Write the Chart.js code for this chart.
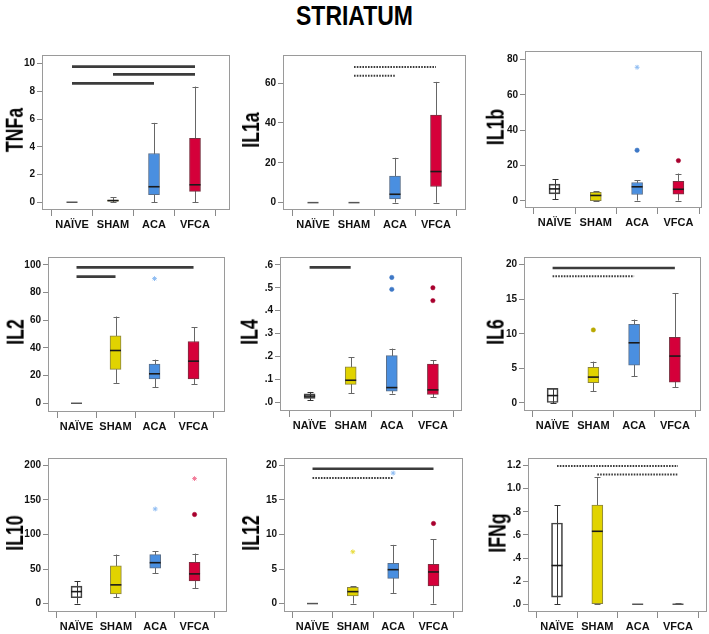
<!DOCTYPE html>
<html><head><meta charset="utf-8">
<script src="https://cdn.jsdelivr.net/npm/chart.js@4.4.1/dist/chart.umd.min.js"></script>
<style>
html,body{margin:0;padding:0;background:#fff;width:709px;height:634px;overflow:hidden;position:relative}
#title{position:absolute;left:0;top:0;width:709px;text-align:center;font-weight:bold;font-size:28px;font-family:"Liberation Sans",Arial,sans-serif;line-height:32px;color:#000;transform:scaleX(0.82);transform-origin:center}
.ytitle{position:absolute;white-space:nowrap;font-weight:bold;font-size:23px;font-family:"Liberation Sans",Arial,sans-serif;line-height:26px;color:#000;transform-origin:center}
canvas{position:absolute}
</style></head><body>
<div id="title">STRIATUM</div>
<script>
const GROUPS = ['NAÏVE','SHAM','ACA','VFCA'];

// box statistics per group: [min, q1, median, q3, max]
const TNFA_BOX = [[0,0,0,0,0],[0,0.07,0.12,0.15,0.35],[0,0.54,1.12,3.52,5.73],[0,0.79,1.26,4.62,8.35]];
const IL1A_BOX = [[0,0,0,0,0],[0,0,0,0,0],[0,1.9,4.2,13.3,22.5],[0,8.1,15.6,43.9,60.6]];
const IL1B_BOX = [[0.9,4.0,6.8,9.5,12.2],[0,0.2,3.1,4.9,5.6],[0.2,3.65,8.0,10.4,11.7],[0.2,3.8,6.6,11.1,15.5]];
const IL2_BOX  = [[0,0,0,0,0],[14.7,24.5,38.1,48.6,62.6],[11.7,17.5,21.3,28.3,31.5],[13.6,17.5,30.4,44.6,54.9]];
const IL4_BOX  = [[0.01,0.018,0.028,0.038,0.046],[0.041,0.079,0.097,0.155,0.198],[0.039,0.049,0.065,0.204,0.235],[0.024,0.035,0.055,0.167,0.184]];
const IL6_BOX  = [[0,0,1.07,2.1,2.1],[1.68,2.94,3.74,5.14,5.98],[3.88,5.47,8.7,11.36,12.06],[2.24,2.99,6.78,9.49,15.9]];
const IL10_BOX = [[0,8.4,17.3,25.2,32.7],[9.3,14,27.1,54.7,71],[44,51.1,59.2,70.8,76],[22,32.7,43,59.8,72.4]];
const IL12_BOX = [[0,0,0,0,0],[0,1.12,1.73,2.34,2.48],[1.54,3.64,4.91,5.84,8.5],[0,2.57,4.58,5.7,9.35]];
const IFNG_BOX = [[0,0.061,0.335,0.703,0.857],[0,0,0.631,0.857,1.1],[0,0,0,0,0],[0,0,0,0,0.008]];

// outliers [group, value] (circles) and extremes [group, value] (stars)
const IL1B_OUT = [[2,28.7],[3,22.8]];  const IL1B_EXT = [[2,75.6]];
const IL2_EXT  = [[2,90]];
const IL4_OUT  = [[2,0.545],[2,0.493],[3,0.5],[3,0.444]];
const IL6_OUT  = [[1,10.56]];
const IL10_OUT = [[3,129]];            const IL10_EXT = [[2,137],[3,181]];
const IL12_OUT = [[3,11.6]];           const IL12_EXT = [[1,7.5],[2,18.9]];

// significance bars [fromGroup, toGroup, value]
const TNFA_SOLID = [[0,3,9.79],[1,3,9.23],[0,2,8.58]];
const IL1A_DOT   = [[1,3,68.1],[1,2,63.7]];
const IL2_SOLID  = [[0,3,98.1],[0,1,91.4]];
const IL4_SOLID  = [[0,1,0.589]];
const IL6_SOLID  = [[0,3,19.5]];       const IL6_DOT  = [[0,2,18.3]];
const IL12_SOLID = [[0,3,19.53]];      const IL12_DOT = [[0,2,18.2]];
const IFNG_DOT   = [[0,3,1.195],[1,3,1.122]];

// y tick values and labels
const TNFA_TICKS = [0,2,4,6,8,10];          const TNFA_LABELS = ['0','2','4','6','8','10'];
const IL1A_TICKS = [0,20,40,60];            const IL1A_LABELS = ['0','20','40','60'];
const IL1B_TICKS = [0,20,40,60,80];         const IL1B_LABELS = ['0','20','40','60','80'];
const IL2_TICKS  = [0,20,40,60,80,100];     const IL2_LABELS  = ['0','20','40','60','80','100'];
const IL4_TICKS  = [0,0.1,0.2,0.3,0.4,0.5,0.6]; const IL4_LABELS = ['.0','.1','.2','.3','.4','.5','.6'];
const IL6_TICKS  = [0,5,10,15,20];          const IL6_LABELS  = ['0','5','10','15','20'];
const IL10_TICKS = [0,50,100,150,200];      const IL10_LABELS = ['0','50','100','150','200'];
const IL12_TICKS = [0,5,10,15,20];          const IL12_LABELS = ['0','5','10','15','20'];
const IFNG_TICKS = [0,0.2,0.4,0.6,0.8,1.0,1.2]; const IFNG_LABELS = ['.0','.2','.4','.6','.8','1.0','1.2'];

// styling
const FILL = ['rgba(255,255,255,0)','#E1D300','#4A8FE0','#D5003A'];
const EDGE = ['#444','#8a8440','#5a6f8a','#7a3040'];
const WHISK = ['#333','#666','#666','#666'];
const OUTC = ['#333','#B8A800','#3E78C6','#A8002E'];
const EXTC = ['#888','#E8DC40','#8EBCF2','#F27A98'];
const SANS = '"Liberation Sans",Arial,sans-serif';

// layout: plot left, top, right, bottom, x of first group, x of last group; title gap
const PANELS = [
  {name:'TNFa', box:TNFA_BOX, out:[], ext:[], solid:TNFA_SOLID, dot:[], ticks:TNFA_TICKS, labels:TNFA_LABELS, yr:[-0.56,10.63], f:[42,50,230,210,72,195], g:27},
  {name:'IL1a', box:IL1A_BOX, out:[], ext:[], solid:[], dot:IL1A_DOT, ticks:IL1A_TICKS, labels:IL1A_LABELS, yr:[-3.7,74.1], f:[283,50,466,210,313,436], g:32},
  {name:'IL1b', box:IL1B_BOX, out:IL1B_OUT, ext:IL1B_EXT, solid:[], dot:[], ticks:IL1B_TICKS, labels:IL1B_LABELS, yr:[-4.0,84.8], f:[525,46,705,208,555,681], g:30},
  {name:'IL2', box:IL2_BOX, out:[], ext:IL2_EXT, solid:IL2_SOLID, dot:[], ticks:IL2_TICKS, labels:IL2_LABELS, yr:[-6.3,105.6], f:[48,252,228,412,77,196], g:33},
  {name:'IL4', box:IL4_BOX, out:IL4_OUT, ext:[], solid:IL4_SOLID, dot:[], ticks:IL4_TICKS, labels:IL4_LABELS, yr:[-0.037,0.634], f:[280,252,464,411,310,435], g:31},
  {name:'IL6', box:IL6_BOX, out:IL6_OUT, ext:[], solid:IL6_SOLID, dot:IL6_DOT, ticks:IL6_TICKS, labels:IL6_LABELS, yr:[-1.16,21.1], f:[524,252,703,411,553,677], g:29},
  {name:'IL10', box:IL10_BOX, out:IL10_OUT, ext:IL10_EXT, solid:[], dot:[], ticks:IL10_TICKS, labels:IL10_LABELS, yr:[-12.2,210.8], f:[48,453,230,612,77,197], g:33},
  {name:'IL12', box:IL12_BOX, out:IL12_OUT, ext:IL12_EXT, solid:IL12_SOLID, dot:IL12_DOT, ticks:IL12_TICKS, labels:IL12_LABELS, yr:[-1.22,21.08], f:[284,453,466,612,313,436], g:33},
  {name:'IFNg', box:IFNG_BOX, out:[], ext:[], solid:[], dot:IFNG_DOT, ticks:IFNG_TICKS, labels:IFNG_LABELS, yr:[-0.067,1.265], f:[528,453,707,612,557,678], g:31}
];

const boxPlugin = {
  id:'boxw',
  beforeDatasetsDraw(chart){
    const p = chart.options.plugins.boxw.panel;
    const xs = chart.scales.x, ys = chart.scales.y, ctx = chart.ctx;
    ctx.save();
    p.box.forEach((b,i)=>{
      const x = Math.round(xs.getPixelForValue(i))+0.5;
      const y0 = ys.getPixelForValue(b[0]), y4 = ys.getPixelForValue(b[4]);
      ctx.strokeStyle = WHISK[i]; ctx.lineWidth = 1;
      if (b[4] > b[0]) {
        ctx.beginPath(); ctx.moveTo(x,y0); ctx.lineTo(x,y4); ctx.stroke();
        ctx.beginPath();
        ctx.moveTo(x-3,Math.round(y0)+0.5); ctx.lineTo(x+3,Math.round(y0)+0.5);
        ctx.moveTo(x-3,Math.round(y4)+0.5); ctx.lineTo(x+3,Math.round(y4)+0.5);
        ctx.stroke();
      }
    });
    ctx.restore();
  },
  afterDatasetsDraw(chart){
    const p = chart.options.plugins.boxw.panel;
    const xs = chart.scales.x, ys = chart.scales.y, ctx = chart.ctx, a = chart.chartArea;
    ctx.save();
    p.box.forEach((b,i)=>{
      const x = xs.getPixelForValue(i);
      const ym = ys.getPixelForValue(b[2]);
      ctx.strokeStyle = (b[3]===b[1]) ? '#555' : '#1a1a1a';
      ctx.lineWidth = (b[3]===b[1]) ? 1.5 : 1.6;
      ctx.beginPath(); ctx.moveTo(x-5.5,ym); ctx.lineTo(x+5.5,ym); ctx.stroke();
    });
    ctx.strokeStyle = '#9a9a9a'; ctx.lineWidth = 1;
    ctx.strokeRect(Math.round(a.left)+0.5, Math.round(a.top)+0.5, Math.round(a.right-a.left)-1, Math.round(a.bottom-a.top)-1);
    ctx.restore();
  }
};

function makePanel(p){
  const [L,T,R,B,c0,c3] = p.f;
  const YW = 34, PT = 3, PR = 2, XH = 26;
  const s = (c3-c0)/3;
  const xmin = (L-c0)/s, xmax = (R-c0)/s;
  const W = YW + (R-L) + PR, H = PT + (B-T) + XH;
  const cv = document.createElement('canvas');
  cv.width = W; cv.height = H;
  cv.style.left = (L-YW)+'px'; cv.style.top = (T-PT)+'px';
  cv.style.width = W+'px'; cv.style.height = H+'px';
  document.body.appendChild(cv);

  // rotated y-axis title as real text
  const t = document.createElement('div');
  t.className = 'ytitle';
  t.textContent = p.name;
  document.body.appendChild(t);
  const tw = t.offsetWidth, th = t.offsetHeight;
  t.style.left = (L - p.g - tw/2) + 'px';
  t.style.top = ((T+B)/2 - th/2) + 'px';
  t.style.transform = 'rotate(-90deg) scaleX(0.77)';

  const datasets = [];
  datasets.push({
    type:'bar', label:'box',
    data: p.box.map((b,i)=>({x:i, y:[b[1], b[3]]})),
    backgroundColor: FILL, borderColor: EDGE, borderWidth: 1, borderSkipped: false,
    barThickness: 11, order: 5
  });
  p.solid.forEach(l=>datasets.push({
    type:'line', data:[{x:l[0],y:l[2]},{x:l[1],y:l[2]}],
    borderColor:'#3c3c3c', borderWidth:2.6, pointRadius:0, fill:false, order:1
  }));
  p.dot.forEach(l=>datasets.push({
    type:'line', data:[{x:l[0],y:l[2]},{x:l[1],y:l[2]}],
    borderColor:'#3c3c3c', borderWidth:2, borderDash:[1.6,1.2], pointRadius:0, fill:false, order:1
  }));
  if (p.out.length) datasets.push({
    type:'line', showLine:false, data:p.out.map(o=>({x:o[0],y:o[1]})),
    pointStyle:'circle', pointRadius:2.2, pointBorderWidth:0.5,
    pointBackgroundColor:p.out.map(o=>OUTC[o[0]]), pointBorderColor:p.out.map(o=>OUTC[o[0]]), order:0
  });
  if (p.ext.length) datasets.push({
    type:'line', showLine:false, data:p.ext.map(o=>({x:o[0],y:o[1]})),
    pointStyle:'star', pointRadius:2.4, pointBorderWidth:1,
    pointBackgroundColor:p.ext.map(o=>EXTC[o[0]]), pointBorderColor:p.ext.map(o=>EXTC[o[0]]), order:0
  });

  new Chart(cv, {
    type:'bar',
    data:{datasets},
    options:{
      responsive:false, animation:false, devicePixelRatio:1,
      layout:{padding:{left:0, top:PT, right:PR, bottom:0}},
      plugins:{legend:{display:false}, tooltip:{enabled:false}, boxw:{panel:p}},
      scales:{
        x:{
          type:'linear', min:xmin, max:xmax, offset:false,
          afterBuildTicks:(sc)=>{ sc.ticks = GROUPS.map((g,i)=>({value:i})); },
          afterFit:(sc)=>{ sc.height = XH; },
          grid:{drawOnChartArea:false, drawTicks:true, tickLength:6, color:'#8a8a8a'},
          border:{display:false},
          ticks:{autoSkip:false, maxRotation:0, padding:2, color:'#111',
            font:{family:SANS, size:11, weight:'bold'},
            callback:(v)=>GROUPS[v]}
        },
        y:{
          type:'linear', min:p.yr[0], max:p.yr[1],
          afterBuildTicks:(sc)=>{ sc.ticks = p.ticks.map(v=>({value:v})); },
          afterFit:(sc)=>{ sc.width = YW; },
          grid:{drawOnChartArea:false, drawTicks:true, tickLength:5, color:'#8a8a8a'},
          border:{display:false},
          ticks:{autoSkip:false, padding:2, color:'#111',
            font:{family:SANS, size:10, weight:'bold'},
            callback:(v)=>{ const k = p.ticks.indexOf(v); return k>=0 ? p.labels[k] : ''; }},
          title:{display:false}
        }
      }
    },
    plugins:[boxPlugin]
  });
}
PANELS.forEach(makePanel);
</script>
</body></html>
